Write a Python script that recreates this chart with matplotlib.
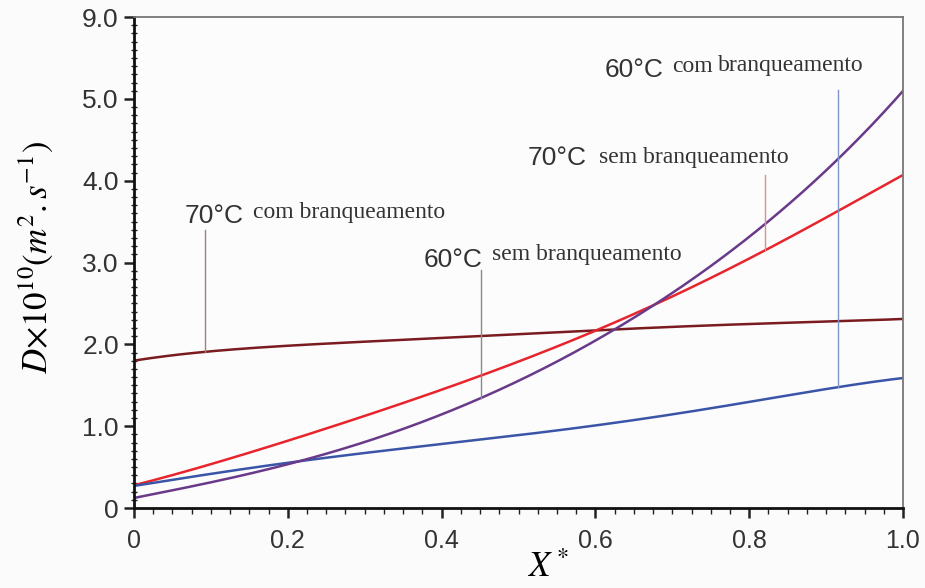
import numpy as np
import matplotlib
matplotlib.use("Agg")
import matplotlib.pyplot as plt
from matplotlib.ticker import MultipleLocator

plt.rcParams["mathtext.fontset"] = "stix"

# ---- data ----
x = [0.0, 0.1, 0.2, 0.3, 0.4, 0.5, 0.6, 0.7, 0.8, 0.9, 1.0]
d70_com = [1.80, 1.92, 1.98, 2.03, 2.08, 2.13, 2.17, 2.21, 2.25, 2.28, 2.31]
d70_sem = [0.28, 0.53, 0.83, 1.13, 1.43, 1.80, 2.17, 2.58, 3.05, 3.55, 4.07]
d60_sem = [0.27, 0.42, 0.55, 0.67, 0.79, 0.89, 1.00, 1.15, 1.30, 1.45, 1.59]
d60_com = [0.12, 0.32, 0.54, 0.80, 1.12, 1.58, 2.07, 2.60, 3.30, 4.15, 5.09]

yticks = [0, 1, 2, 3, 4, 5, 6]
ytick_labels = ["0", "1.0", "2.0", "3.0", "4.0", "5.0", "9.0"]
xticks = [0, 0.2, 0.4, 0.6, 0.8, 1.0]
xtick_labels = ["0", "0.2", "0.4", "0.6", "0.8", "1.0"]

# ---- figure ----
fig = plt.figure(figsize=(9.25, 5.88), dpi=100, facecolor="#fbfbfb")
ax = fig.add_axes([0.1449, 0.136, 0.8313, 0.835])
ax.set_facecolor("#fcfcfc")

xs = np.linspace(0, 1, 200)
def smooth(vals):
    c = np.polyfit(x, vals, 5)
    return np.polyval(c, xs)

ax.plot(xs, smooth(d70_com), color="#7a1c1f", lw=1.8)
ax.plot(xs, smooth(d70_sem), color="#e8242c", lw=1.8)
ax.plot(xs, smooth(d60_sem), color="#3a55a8", lw=1.8)
ax.plot(xs, smooth(d60_com), color="#6a3a8a", lw=1.8)

ax.set_xlim(0, 1)
ax.set_ylim(0, 6)
ax.set_xticks(xticks)
ax.set_xticklabels(xtick_labels)
ax.set_yticks(yticks)
ax.set_yticklabels(ytick_labels)
ax.xaxis.set_minor_locator(MultipleLocator(0.025))
ax.yaxis.set_minor_locator(MultipleLocator(0.1))

ax.tick_params(axis="x", which="major", direction="out", length=7, width=1.8,
               labelsize=18, colors="#222", pad=8)
ax.tick_params(axis="x", which="minor", direction="out", length=4, width=1.0, colors="#222")
ax.tick_params(axis="y", which="major", direction="out", length=7, width=1.8,
               labelsize=19, colors="#222", pad=4)
ax.tick_params(axis="y", which="minor", direction="inout", length=5, width=1.0, colors="#222")
for lab in ax.get_xticklabels() + ax.get_yticklabels():
    lab.set_family("Liberation Sans")
    lab.set_color("#333")

for s in ["left", "bottom"]:
    ax.spines[s].set_linewidth(2.0)
    ax.spines[s].set_color("#111")
for s in ["top", "right"]:
    ax.spines[s].set_linewidth(1.3)
    ax.spines[s].set_color("#777")

ax.set_ylabel(r"$D{\times}10^{10}(m^2.s^{-1})$", fontsize=25)
ax.yaxis.set_label_coords(-0.103, 0.51)
ax.set_xlabel(r"$X^*$", fontsize=25)
ax.xaxis.set_label_coords(0.538, -0.085)

# ---- annotations ----
def label(xt, yt, temp, xw, yw, words, lx, ly_top, series, color):
    ax.text(xt, yt, temp, fontsize=19, family="Liberation Sans", color="#333", va="baseline")
    for xx, yy, w in zip(xw, yw, words):
        ax.text(xx, yy, w, fontsize=17, family="Liberation Serif", color="#333", va="baseline")
    y_end = np.interp(lx, xs, smooth(series))
    ax.plot([lx, lx], [ly_top, y_end], color=color, lw=1.0)

label(0.066, 3.48, "70°C", [0.155], [3.55], ["com branqueamento"], 0.092, 3.40, d70_com, "#a08080")
label(0.376, 2.95, "60°C", [0.466], [3.03], ["sem branqueamento"], 0.451, 2.91, d60_com, "#8a8a8a")
label(0.512, 4.19, "70°C", [0.605], [4.22], ["sem branqueamento"], 0.8205, 4.07, d70_sem, "#d89090")
label(0.612, 5.27, "60°C", [0.700, 0.760], [5.33, 5.34], ["com", "branqueamento"], 0.9155, 5.11, d60_sem, "#7f95c8")

fig.savefig("out.png", dpi=100, facecolor=fig.get_facecolor())
